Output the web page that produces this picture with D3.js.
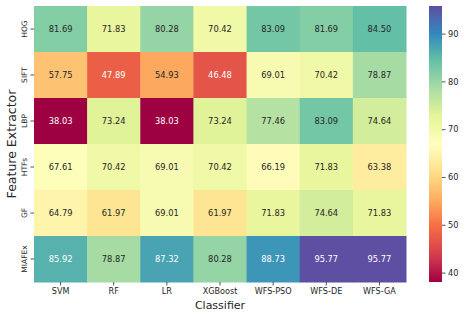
<!DOCTYPE html>
<html>
<head>
    <title>Feature extractor vs classifier heatmap</title>
    <style>
        body { margin: 0; background: #fff; }
        svg { display: block; font-family: "DejaVu Sans", sans-serif; }
    </style>
</head>
<body>
    <svg id="chart" width="465" height="317"></svg>

    <script src="https://d3js.org/d3.v7.min.js"></script>
    <script>
        // data
        const classifiers = ["SVM", "RF", "LR", "XGBoost", "WFS-PSO", "WFS-DE", "WFS-GA"];
        const extractors = ["HOG", "SIFT", "LBP", "HTFs", "GF", "MIAFEx"];
        const hog    = [81.69, 71.83, 80.28, 70.42, 83.09, 81.69, 84.50];
        const sift   = [57.75, 47.89, 54.93, 46.48, 69.01, 70.42, 78.87];
        const lbp    = [38.03, 73.24, 38.03, 73.24, 77.46, 83.09, 74.64];
        const htfs   = [67.61, 70.42, 69.01, 70.42, 66.19, 71.83, 63.38];
        const gf     = [64.79, 61.97, 69.01, 61.97, 71.83, 74.64, 71.83];
        const miafex = [85.92, 78.87, 87.32, 80.28, 88.73, 95.77, 95.77];
        const rows = [hog, sift, lbp, htfs, gf, miafex];
        const colorTicks = [40, 50, 60, 70, 80, 90];

        const cells = [];
        rows.forEach((r, i) => r.forEach((v, j) => cells.push({ row: extractors[i], col: classifiers[j], value: v })));

        const vmin = d3.min(cells, d => d.value);
        const vmax = d3.max(cells, d => d.value);

        const svg = d3.select("#chart");
        const m = { left: 34, top: 6, right: 406, bottom: 282 };

        const x = d3.scaleBand().domain(classifiers).range([m.left, m.right]);
        const y = d3.scaleBand().domain(extractors).range([m.top, m.bottom]);

        // matplotlib "Spectral" is a linear ramp through the 11 brewer colours
        const spectral = d3.schemeSpectral[11];
        const color = d3.scaleLinear()
            .domain(spectral.map((c, i) => vmin + i * (vmax - vmin) / 10))
            .range(spectral)
            .interpolate(d3.interpolateRgb);

        // seaborn picks the annotation colour from relative luminance
        function luminance(c) {
            const rgb = d3.rgb(c);
            const lin = [rgb.r, rgb.g, rgb.b].map(v => {
                v /= 255;
                return v <= 0.03928 ? v / 12.92 : Math.pow((v + 0.055) / 1.055, 2.4);
            });
            return 0.2126 * lin[0] + 0.7152 * lin[1] + 0.0722 * lin[2];
        }

        const g = svg.append("g");
        g.selectAll("rect")
            .data(cells)
            .join("rect")
            .attr("x", d => x(d.col))
            .attr("y", d => y(d.row))
            .attr("width", x.bandwidth() + 0.5)
            .attr("height", y.bandwidth() + 0.5)
            .attr("fill", d => color(d.value));

        g.selectAll("text")
            .data(cells)
            .join("text")
            .attr("x", d => x(d.col) + x.bandwidth() / 2)
            .attr("y", d => y(d.row) + y.bandwidth() / 2)
            .attr("dy", "0.36em")
            .attr("text-anchor", "middle")
            .attr("font-size", "8.3px")
            .attr("fill", d => luminance(color(d.value)) > 0.408 ? "#262626" : "#ffffff")
            .text(d => d.value.toFixed(2));

        // axes
        const xAxis = svg.append("g")
            .attr("transform", `translate(0,${m.bottom})`)
            .call(d3.axisBottom(x).tickSize(3.5).tickPadding(2.5));
        const yAxis = svg.append("g")
            .attr("transform", `translate(${m.left},0)`)
            .call(d3.axisLeft(y).tickSize(3.5).tickPadding(2.5));
        [xAxis, yAxis].forEach(a => {
            a.select(".domain").remove();
            a.selectAll("line").attr("stroke", "#262626").attr("stroke-width", 0.8);
            a.selectAll("text").attr("fill", "#262626").attr("font-family", "DejaVu Sans");
        });
        xAxis.selectAll("text").attr("font-size", "8.1px");
        yAxis.selectAll(".tick text")
            .attr("font-size", "7.5px")
            .attr("x", null)
            .attr("dy", "0em")
            .attr("text-anchor", "middle")
            .attr("transform", "translate(-7.2,0) rotate(-90)");

        svg.append("text")
            .attr("x", (m.left + m.right) / 2)
            .attr("y", 309)
            .attr("text-anchor", "middle")
            .attr("font-size", "11px")
            .attr("fill", "#262626")
            .text("Classifier");

        svg.append("text")
            .attr("transform", `translate(15.5,${(m.top + m.bottom) / 2}) rotate(-90)`)
            .attr("text-anchor", "middle")
            .attr("font-size", "12.5px")
            .attr("fill", "#262626")
            .text("Feature Extractor");

        // colour bar
        const cb = { x: 429, w: 13 };
        const cy = d3.scaleLinear().domain([vmin, vmax]).range([m.bottom, m.top]);
        const grad = svg.append("defs").append("linearGradient")
            .attr("id", "cbgrad").attr("x1", 0).attr("y1", 1).attr("x2", 0).attr("y2", 0);
        grad.selectAll("stop")
            .data(d3.range(0, 1.0001, 0.02))
            .join("stop")
            .attr("offset", d => d)
            .attr("stop-color", d => color(vmin + d * (vmax - vmin)));
        svg.append("rect")
            .attr("x", cb.x).attr("y", m.top)
            .attr("width", cb.w).attr("height", m.bottom - m.top)
            .attr("fill", "url(#cbgrad)");
        const cAxis = svg.append("g")
            .attr("transform", `translate(${cb.x + cb.w},0)`)
            .call(d3.axisRight(cy).tickValues(colorTicks).tickSize(3.5).tickPadding(2.5));
        cAxis.select(".domain").remove();
        cAxis.selectAll("line").attr("stroke", "#262626").attr("stroke-width", 0.8);
        cAxis.selectAll("text").attr("font-size", "8.2px").attr("fill", "#262626").attr("font-family", "DejaVu Sans");
    </script>
</body>
</html>
